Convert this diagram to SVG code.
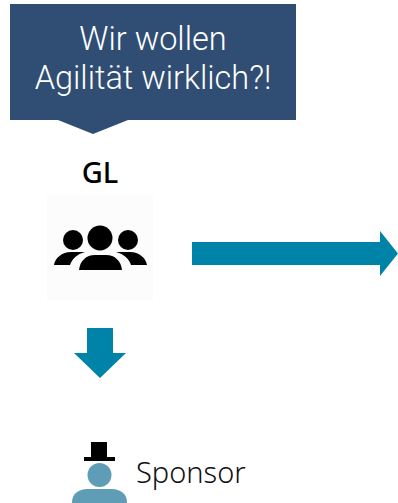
<svg xmlns="http://www.w3.org/2000/svg" width="398" height="503" viewBox="0 0 398 503">
<style>
.t{font-family:"Noto Sans","Open Sans","Liberation Sans",sans-serif}
.c{fill:#fff;text-anchor:middle;font-weight:300;font-size:32.500px;font-family:Roboto,"Open Sans",sans-serif}
.b{fill:#000}
.a{fill:#0083a9}
.s{fill:#5f9db7}
</style>
<rect width="398" height="503" fill="#fff"/>
<g id="callout">
<path d="M10 4H296V120H128L93 134L58 120H10Z" fill="#304e74"/>
<text class="c" x="153" y="50">Wir wollen</text>
<text class="c" x="153" y="89">Agilität wirklich?!</text>
</g>
<g id="gl">
<text class="t" x="100" y="183" font-size="29" font-weight="500" text-anchor="middle" fill="#000">GL</text>
<rect x="47" y="195" width="106" height="105" fill="#fcfcfc"/>
<circle class="b" cx="73" cy="240" r="10"/>
<circle class="b" cx="128" cy="240" r="10"/>
<circle class="b" cx="100" cy="238" r="12.500"/>
<path class="b" d="M54 265C55 258 62 252 71 252H85C77 254 72 259 70 265Z"/>
<path class="b" d="M147 265C146 258 139 252 130 252H116C124 254 129 259 131 265Z"/>
<path class="b" d="M79 270C80 261 86 255 95 255H106C115 255 121 261 122 270Z"/>
</g>
<g id="connectors">
<path class="a" d="M192 242H380V231L398 253.500L380 276V265H192Z"/>
<path class="a" d="M87 328H113V353H126L100 378L74 353H87Z"/>
</g>
<g id="sponsor">
<rect class="b" x="91" y="442" width="16" height="15"/>
<rect class="b" x="84" y="457" width="31" height="4"/>
<circle class="s" cx="99.500" cy="475" r="12"/>
<path class="s" d="M72 503V502C72 494 79 489 87 489H112C120 489 127 494 127 502V503Z"/>
<text class="t" x="136" y="483" font-size="29" font-weight="300" fill="#111">Sponsor</text>
</g>
</svg>
